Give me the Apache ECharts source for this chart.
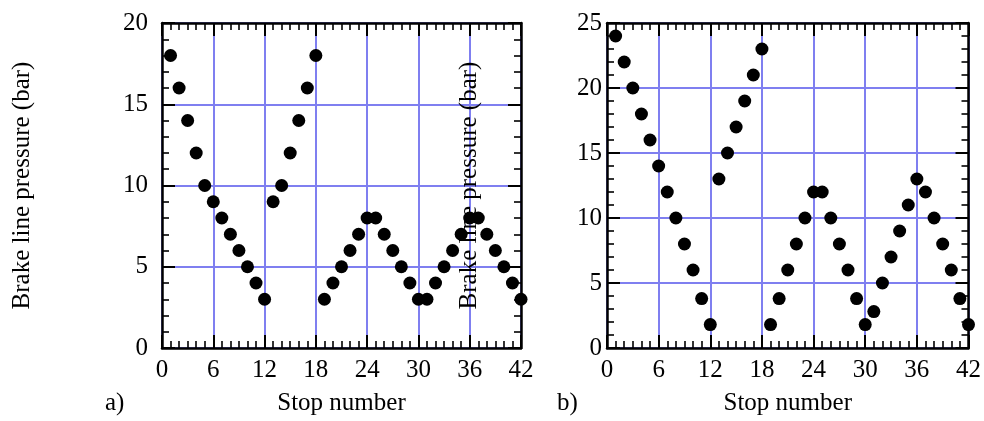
<!DOCTYPE html>
<html>
<head>
<meta charset="utf-8">
<script src="https://cdn.jsdelivr.net/npm/echarts@6/dist/echarts.min.js"></script>
<style>
  html, body { margin: 0; padding: 0; background: #fff; }
  #main { width: 984px; height: 421px; }
</style>
</head>
<body>
<div id="main"></div>
<script>
var stops = [1, 2, 3, 4, 5, 6, 7, 8, 9, 10, 11, 12, 13, 14, 15, 16, 17, 18, 19, 20, 21,
             22, 23, 24, 25, 26, 27, 28, 29, 30, 31, 32, 33, 34, 35, 36, 37, 38, 39, 40, 41, 42];
var pressureA = [18, 16, 14, 12, 10, 9, 8, 7, 6, 5, 4, 3,
                 9, 10, 12, 14, 16, 18,
                 3, 4, 5, 6, 7, 8, 8, 7, 6, 5, 4, 3,
                 3, 4, 5, 6, 7, 8, 8, 7, 6, 5, 4, 3];
var pressureB = [24, 22, 20, 18, 16, 14, 12, 10, 8, 6, 3.8, 1.8,
                 13, 15, 17, 19, 21, 23,
                 1.8, 3.8, 6, 8, 10, 12, 12, 10, 8, 6, 3.8, 1.8,
                 2.8, 5, 7, 9, 11, 13, 12, 10, 8, 6, 3.8, 1.8];
var xTicks = [0, 6, 12, 18, 24, 30, 36, 42];
var yTicksA = [0, 5, 10, 15, 20];
var yTicksB = [0, 5, 10, 15, 20, 25];
var panelLabels = ['a)', 'b)'];
var xTitle = 'Stop number';
var yTitle = 'Brake line pressure (bar)';

var font = 'Liberation Serif';
var gridBlue = '#7f7ff0';

// black frame side with inside major + minor ticks
function frame(gridIndex, position, ticks, extra) {
    var step = ticks[1] - ticks[0];
    var a = {
        type: 'value',
        gridIndex: gridIndex,
        position: position,
        z: 3,
        min: ticks[0],
        max: ticks[ticks.length - 1],
        interval: step,
        axisLine: { show: true, onZero: false, lineStyle: { color: '#000', width: 2.5 } },
        axisTick: { show: true, inside: true, length: 13, lineStyle: { color: '#000', width: 2 } },
        minorTick: { show: true, splitNumber: step, length: 7, lineStyle: { color: '#000', width: 1.6 } },
        axisLabel: { show: false },
        splitLine: { show: false }
    };
    return Object.assign(a, extra || {});
}

// blue grid lines only, kept under the frame ticks
function gridLines(gridIndex, ticks) {
    return {
        type: 'value',
        gridIndex: gridIndex,
        z: 1,
        min: ticks[0],
        max: ticks[ticks.length - 1],
        interval: ticks[1] - ticks[0],
        axisLine: { show: false, onZero: false },
        axisTick: { show: false },
        axisLabel: { show: false },
        splitLine: { show: true, lineStyle: { color: gridBlue, width: 2 } }
    };
}

function xBottom(gridIndex) {
    return frame(gridIndex, 'bottom', xTicks, {
        axisLabel: { show: true, margin: 10, color: '#000', fontFamily: font, fontSize: 25 },
        name: xTitle,
        nameLocation: 'middle',
        nameGap: 43,
        nameTextStyle: { color: '#000', fontFamily: font, fontSize: 25 }
    });
}

function yLeft(gridIndex, ticks, labelMargin, nameGap) {
    return frame(gridIndex, 'left', ticks, {
        axisLabel: { show: true, margin: labelMargin, color: '#000', fontFamily: font, fontSize: 25, padding: [0, 0, 8, 0] },
        name: yTitle,
        nameLocation: 'middle',
        nameRotate: 90,
        nameGap: nameGap,
        nameTextStyle: { color: '#000', fontFamily: font, fontSize: 25 }
    });
}

var chart = echarts.init(document.getElementById('main'), null, { renderer: 'canvas' });

var option = {
    animation: false,
    backgroundColor: '#fff',
    grid: [
        { left: 162, top: 23, width: 359, height: 326 },
        { left: 607, top: 23, width: 365, height: 326 }
    ],
    xAxis: [
        xBottom(0), frame(0, 'top', xTicks), gridLines(0, xTicks),
        xBottom(1), frame(1, 'top', xTicks), gridLines(1, xTicks)
    ],
    yAxis: [
        yLeft(0, yTicksA, 14, 127), frame(0, 'right', yTicksA), gridLines(0, yTicksA),
        yLeft(1, yTicksB, 5, 125), frame(1, 'right', yTicksB), gridLines(1, yTicksB)
    ],
    graphic: [
        { type: 'text', left: 105, top: 391, style: { text: panelLabels[0], font: '25px "Liberation Serif"', fill: '#000' } },
        { type: 'text', left: 557, top: 391, style: { text: panelLabels[1], font: '25px "Liberation Serif"', fill: '#000' } }
    ],
    series: [
        {
            type: 'scatter',
            xAxisIndex: 0,
            yAxisIndex: 0,
            z: 4,
            clip: false,
            symbolSize: 13,
            itemStyle: { color: '#000', opacity: 1 },
            data: stops.map(function (s, i) { return [s, pressureA[i]]; })
        },
        {
            type: 'scatter',
            xAxisIndex: 3,
            yAxisIndex: 3,
            z: 2,
            clip: false,
            symbolSize: 13,
            itemStyle: { color: '#000', opacity: 1 },
            data: stops.map(function (s, i) { return [s, pressureB[i]]; })
        }
    ]
};

chart.setOption(option);
window.addEventListener('resize', chart.resize);
</script>
</body>
</html>
